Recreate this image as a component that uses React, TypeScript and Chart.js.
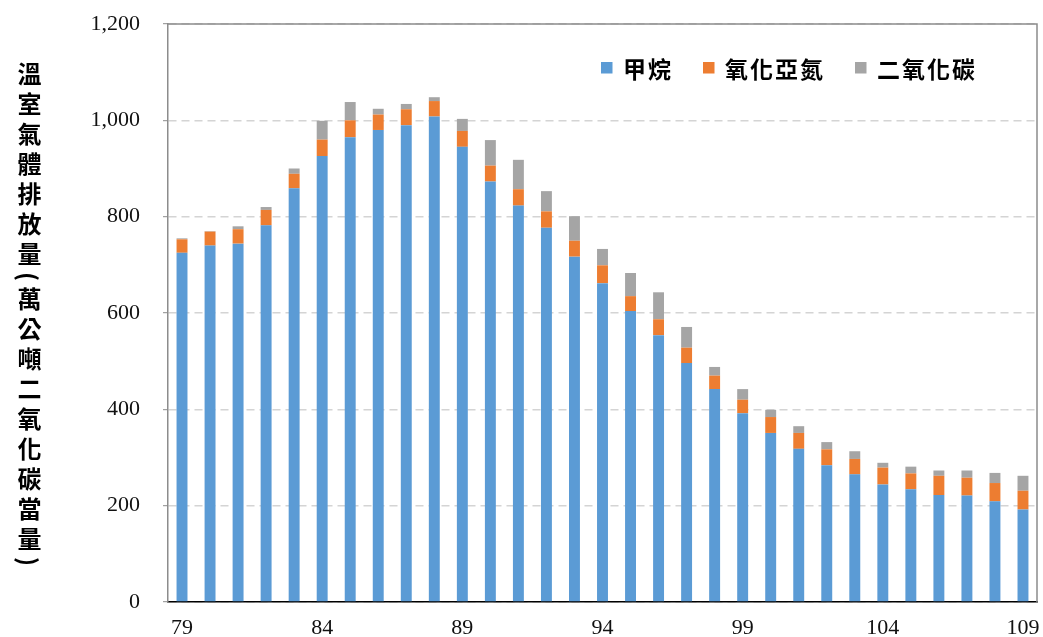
import React, { useEffect, useRef } from "react";
import { Chart, registerables } from "chart.js";

Chart.register(...registerables);

const years: string[] = [
  "79", "80", "81", "82", "83", "84", "85", "86", "87", "88",
  "89", "90", "91", "92", "93", "94", "95", "96", "97", "98",
  "99", "100", "101", "102", "103", "104", "105", "106", "107", "108", "109",
];

const methane: number[] = [
  725, 740, 744, 782, 859, 926, 965, 980, 990, 1008,
  945, 873, 823, 777, 717, 662, 604, 554, 496, 442,
  392, 351, 318, 284, 265, 244, 234, 222, 221, 209, 192,
];

const nitrousOxide: number[] = [
  28, 29, 30, 32, 30, 34, 35, 32, 33, 32,
  33, 33, 34, 34, 33, 37, 31, 33, 32, 28,
  28, 33, 33, 33, 32, 35, 33, 40, 37, 38, 39,
];

const carbonDioxide: number[] = [
  2, 1, 6, 6, 11, 39, 38, 12, 11, 8,
  25, 53, 61, 42, 51, 34, 48, 56, 43, 18,
  22, 15, 14, 15, 16, 10, 14, 11, 15, 21, 31,
];

const seriesNames: string[] = ["甲烷", "氧化亞氮", "二氧化碳"];
const seriesColors: string[] = ["#5B9BD5", "#ED7D31", "#A5A5A5"];
const yTitle = "溫室氣體排放量(萬公噸二氧化碳當量)";

const W = 1043;
const H = 637;

const plotFrame = {
  id: "plotFrame",
  beforeDatasetsDraw(chart: any) {
    const { ctx, chartArea } = chart;
    ctx.save();
    ctx.strokeStyle = "#8c8c8c";
    ctx.lineWidth = 1.5;
    ctx.beginPath();
    ctx.moveTo(chartArea.left, chartArea.top);
    ctx.lineTo(chartArea.right, chartArea.top);
    ctx.lineTo(chartArea.right, chartArea.bottom);
    ctx.stroke();
    ctx.restore();
  },
};

const insideLegend = {
  id: "insideLegend",
  afterDraw(chart: any) {
    const { ctx, chartArea } = chart;
    ctx.save();
    ctx.font = "bold 23px 'Noto Sans CJK TC', sans-serif";
    try {
      (ctx as any).letterSpacing = "2px";
    } catch (e) {}
    ctx.textBaseline = "middle";
    ctx.textAlign = "left";
    let x = chartArea.right - 436;
    const y = chartArea.top + 45;
    chart.data.datasets.forEach((ds: any) => {
      ctx.fillStyle = ds.backgroundColor;
      ctx.fillRect(x, y - 7, 11.5, 11.5);
      x += 22;
      ctx.fillStyle = "#000";
      ctx.fillText(ds.label, x, y);
      x += ctx.measureText(ds.label).width + 30;
    });
    ctx.restore();
  },
};

export default function App() {
  const ref = useRef<HTMLCanvasElement | null>(null);

  useEffect(() => {
    if (!ref.current) return;
    const tickFont = { family: "'Liberation Serif', serif", size: 22 };
    const chart = new Chart(ref.current, {
      type: "bar",
      data: {
        labels: years,
        datasets: [
          { label: seriesNames[0], data: methane, backgroundColor: seriesColors[0] },
          { label: seriesNames[1], data: nitrousOxide, backgroundColor: seriesColors[1] },
          { label: seriesNames[2], data: carbonDioxide, backgroundColor: seriesColors[2] },
        ],
      },
      options: {
        responsive: false,
        animation: false,
        layout: { padding: { left: 0, top: 24, right: 6, bottom: 0 } },
        datasets: { bar: { categoryPercentage: 1, barPercentage: 0.39 } },
        plugins: {
          tooltip: { enabled: false },
          legend: { display: false },
        },
        scales: {
          x: {
            stacked: true,
            grid: { display: false, drawTicks: false },
            border: { display: true, color: "#000", width: 1.5 },
            ticks: {
              autoSkip: false,
              maxRotation: 0,
              padding: 13,
              color: "#111",
              font: tickFont,
              callback: (_v: any, i: number) => (i % 5 === 0 ? years[i] : ""),
            },
            afterFit: (s: any) => {
              s.height = 35;
              s.paddingLeft = 0;
              s.paddingRight = 0;
            },
          },
          y: {
            stacked: true,
            min: 0,
            max: 1200,
            grid: {
              color: "#d4d4d4",
              lineWidth: 1.4,
              tickColor: "#8c8c8c",
              tickLength: 5,
              tickWidth: 1,
            },
            border: { display: true, color: "#8c8c8c", width: 1.5, dash: [8, 5] },
            ticks: {
              stepSize: 200,
              padding: 23,
              color: "#111",
              font: tickFont,
              callback: (v: any) => Number(v).toLocaleString("en-US"),
            },
            afterFit: (s: any) => {
              s.width = 168;
              s.paddingTop = 0;
              s.paddingBottom = 0;
            },
          },
        },
      },
      plugins: [plotFrame, insideLegend],
    } as any);
    return () => chart.destroy();
  }, []);

  return (
    <div style={{ position: "absolute", left: 0, top: 0, width: W, height: H, background: "#fff" }}>
      <canvas ref={ref} width={W} height={H} style={{ display: "block" }} />
      <div
        style={{
          position: "absolute",
          left: 13,
          top: 62,
          writingMode: "vertical-rl",
          fontFamily: "'Noto Sans CJK TC', sans-serif",
          fontSize: 24,
          fontWeight: "bold",
          letterSpacing: "6px",
          lineHeight: "32px",
          color: "#000",
          whiteSpace: "nowrap",
        }}
      >
        {yTitle}
      </div>
    </div>
  );
}
